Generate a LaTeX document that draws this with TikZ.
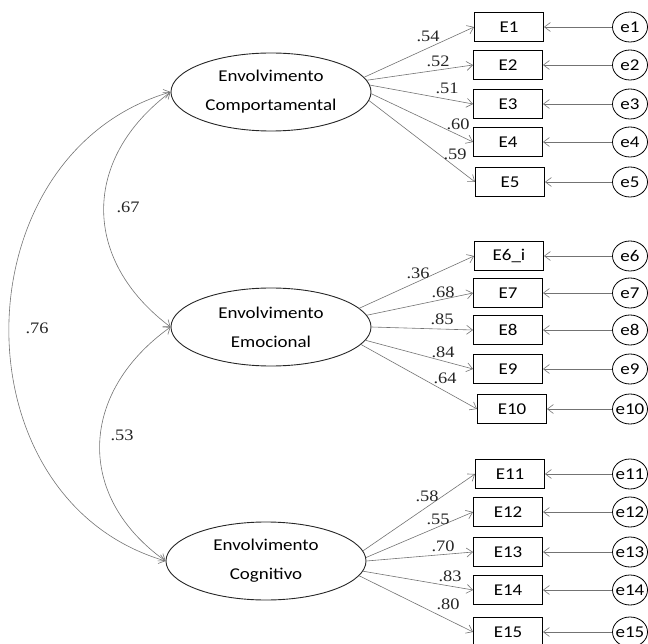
\documentclass[tikz,border=0pt]{standalone}
\usepackage{fontspec}
\setmainfont{Carlito}[FakeStretch=1.15]
\newfontfamily\coeffont{Liberation Serif}[FakeStretch=1.15]
\usetikzlibrary{shapes, arrows.meta, positioning}

\begin{document}
\begin{tikzpicture}[x=1pt, y=-1pt, >={Straight Barb[length=6pt, width=9pt]},
    latent/.style={draw=black!85, line width=0.9pt, ellipse, minimum width=200pt, minimum height=78pt,
      align=center, font=\fontsize{16.5}{20}\selectfont},
    item/.style={draw, line width=0.9pt, rectangle, minimum width=69pt, minimum height=29pt, inner sep=0pt,
      font=\fontsize{16.5}{20}\selectfont},
    err/.style={draw, line width=0.8pt, ellipse, minimum width=35pt, minimum height=30pt, inner sep=0pt,
      label={[font=\fontsize{16.5}{20}\selectfont]center:#1}},
    arr/.style={->, draw=black!55, line width=0.6pt},
    coef/.style={inner sep=0pt, text=black!85, font=\coeffont\fontsize{16}{18}\selectfont}]

    \useasboundingbox (0,0) rectangle (648,644);

    % latent factors
    \node[latent] (comp) at (271,92) {Envolvimento\\[9pt]Comportamental};
    \node[latent] (emoc) at (271,327) {Envolvimento\\[9pt]Emocional};
    \node[latent] (cogn) at (266,561) {Envolvimento\\[9pt]Cognitivo};

    % indicators and their errors
    \foreach \n/\t/\x/\y in {1/E1/509/27, 2/E2/508/65, 3/E3/508/104, 4/E4/508/142, 5/E5/510/182,
        6/E6\_i/509/256, 7/E7/508/293, 8/E8/508/330, 9/E9/508/369, 10/E10/512/409,
        11/E11/510/474, 12/E12/508/512, 13/E13/508/552, 14/E14/508/590, 15/E15/508/632} {
      \node[item] (E\n) at (\x,\y) {\t};
      \node[err=e\n] (e\n) at (630,\y) {};
      \draw[arr] (e\n) -- (E\n);
    }

    % loadings
    \foreach \n/\a/\v/\lx/\ly in {1/9/.54/428/36, 2/7/.52/438/61, 3/4/.51/447/88, 4/-1/.60/458/124, 5/-5/.59/455/154} {
      \draw[arr] (comp.\a) -- (E\n.west);
      \node[coef] (l\n) at (\lx,\ly) {\v};
    }
    \foreach \n/\a/\v/\lx/\ly in {6/12/.36/418/273, 7/7/.68/443/292, 8/0/.85/442/319, 9/-8/.84/443/352, 10/-11/.64/445/378} {
      \draw[arr] (emoc.\a) -- (E\n.west);
      \node[coef] (l\n) at (\lx,\ly) {\v};
    }
    \foreach \n/\a/\v/\lx/\ly in {11/6.5/.58/427/496, 12/2/.55/438/519, 13/-0.5/.70/443/546, 14/-6.5/.83/450/576, 15/-9/.80/448/604} {
      \draw[arr] (cogn.\a) -- (E\n.west);
      \node[coef] (l\n) at (\lx,\ly) {\v};
    }

    % correlations
    \draw[arr, <->] (comp.west) .. controls +(-89,67) and +(-89,-67) .. (emoc.west);
    \draw[arr, <->] (emoc.west) .. controls +(-91,65) and +(-91,-65) .. (cogn.west);
    \draw[arr, <->] (comp.west) .. controls +(-212,62) and +(-212,-62) .. (cogn.west);
    \node[coef] (r1) at (128,207) {.67};
    \node[coef] (r2) at (122,435) {.53};
    \node[coef] (r3) at (37,328) {.76};

\end{tikzpicture}
\end{document}
